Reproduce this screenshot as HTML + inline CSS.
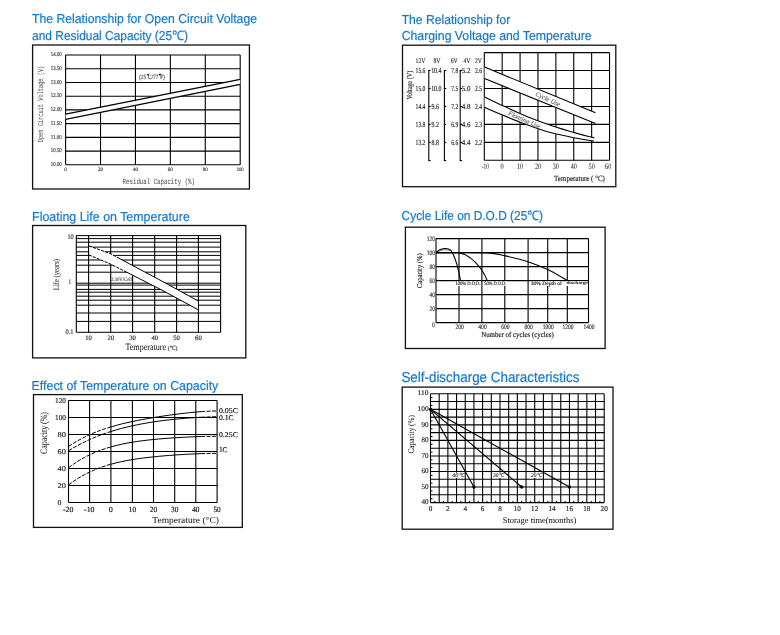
<!DOCTYPE html>
<html><head><meta charset="utf-8"><style>
html,body{margin:0;padding:0;background:#fff;width:780px;height:635px;overflow:hidden;position:relative}
svg{display:block;position:absolute;left:0;top:0}
#c{will-change:transform}
text{text-rendering:geometricPrecision}
</style></head><body>
<svg id="c" width="780" height="635" viewBox="0 0 780 635">
<rect width="780" height="635" fill="#fff"/>
<rect x="32.6" y="45" width="216.8" height="144" fill="none" stroke="#111" stroke-width="1.3"/>
<line x1="65.60" y1="55.00" x2="65.60" y2="164.80" stroke="#000" stroke-width="1.1" />
<line x1="100.52" y1="55.00" x2="100.52" y2="164.80" stroke="#000" stroke-width="1.1" />
<line x1="135.44" y1="55.00" x2="135.44" y2="164.80" stroke="#000" stroke-width="1.1" />
<line x1="170.36" y1="55.00" x2="170.36" y2="164.80" stroke="#000" stroke-width="1.1" />
<line x1="205.28" y1="55.00" x2="205.28" y2="164.80" stroke="#000" stroke-width="1.1" />
<line x1="240.20" y1="55.00" x2="240.20" y2="164.80" stroke="#000" stroke-width="1.1" />
<line x1="65.60" y1="55.00" x2="240.20" y2="55.00" stroke="#000" stroke-width="1.1" />
<line x1="65.60" y1="68.72" x2="240.20" y2="68.72" stroke="#000" stroke-width="1.1" />
<line x1="65.60" y1="82.45" x2="240.20" y2="82.45" stroke="#000" stroke-width="1.1" />
<line x1="65.60" y1="96.18" x2="240.20" y2="96.18" stroke="#000" stroke-width="1.1" />
<line x1="65.60" y1="109.90" x2="240.20" y2="109.90" stroke="#000" stroke-width="1.1" />
<line x1="65.60" y1="123.62" x2="240.20" y2="123.62" stroke="#000" stroke-width="1.1" />
<line x1="65.60" y1="137.35" x2="240.20" y2="137.35" stroke="#000" stroke-width="1.1" />
<line x1="65.60" y1="151.08" x2="240.20" y2="151.08" stroke="#000" stroke-width="1.1" />
<line x1="65.60" y1="164.80" x2="240.20" y2="164.80" stroke="#000" stroke-width="1.1" />
<polygon points="65.6,114.1 240.2,79.4 240.2,84.4 65.6,119.4" fill="#fff"/>
<line x1="65.60" y1="114.10" x2="240.20" y2="79.40" stroke="#000" stroke-width="1.1" />
<line x1="65.60" y1="119.40" x2="240.20" y2="84.40" stroke="#000" stroke-width="1.1" />
<text transform="translate(61.80,54.20) scale(0.846,1)" x="0" y="1.95" font-family="Liberation Serif" font-size="5.78" fill="#333" stroke="#333" stroke-width="0.15" text-anchor="end" >14.00</text>
<text transform="translate(61.80,67.92) scale(0.846,1)" x="0" y="1.95" font-family="Liberation Serif" font-size="5.78" fill="#333" stroke="#333" stroke-width="0.15" text-anchor="end" >13.50</text>
<text transform="translate(61.80,81.65) scale(0.846,1)" x="0" y="1.95" font-family="Liberation Serif" font-size="5.78" fill="#333" stroke="#333" stroke-width="0.15" text-anchor="end" >13.00</text>
<text transform="translate(61.80,95.38) scale(0.846,1)" x="0" y="1.95" font-family="Liberation Serif" font-size="5.78" fill="#333" stroke="#333" stroke-width="0.15" text-anchor="end" >12.50</text>
<text transform="translate(61.80,109.10) scale(0.846,1)" x="0" y="1.95" font-family="Liberation Serif" font-size="5.78" fill="#333" stroke="#333" stroke-width="0.15" text-anchor="end" >12.00</text>
<text transform="translate(61.80,122.83) scale(0.860,1)" x="0" y="1.95" font-family="Liberation Serif" font-size="5.78" fill="#333" stroke="#333" stroke-width="0.15" text-anchor="end" >11.50</text>
<text transform="translate(61.80,136.55) scale(0.860,1)" x="0" y="1.95" font-family="Liberation Serif" font-size="5.78" fill="#333" stroke="#333" stroke-width="0.15" text-anchor="end" >11.00</text>
<text transform="translate(61.80,150.28) scale(0.846,1)" x="0" y="1.95" font-family="Liberation Serif" font-size="5.78" fill="#333" stroke="#333" stroke-width="0.15" text-anchor="end" >10.50</text>
<text transform="translate(61.80,164.00) scale(0.846,1)" x="0" y="1.95" font-family="Liberation Serif" font-size="5.78" fill="#333" stroke="#333" stroke-width="0.15" text-anchor="end" >10.00</text>
<text transform="translate(65.60,169.50) scale(0.975,1)" x="0" y="1.80" font-family="Liberation Serif" font-size="5.33" fill="#333" stroke="#333" stroke-width="0.15" text-anchor="middle" >0</text>
<text transform="translate(100.52,169.50) scale(0.938,1)" x="0" y="1.80" font-family="Liberation Serif" font-size="5.33" fill="#333" stroke="#333" stroke-width="0.15" text-anchor="middle" >20</text>
<text transform="translate(135.44,169.50) scale(0.938,1)" x="0" y="1.80" font-family="Liberation Serif" font-size="5.33" fill="#333" stroke="#333" stroke-width="0.15" text-anchor="middle" >40</text>
<text transform="translate(170.36,169.50) scale(0.938,1)" x="0" y="1.80" font-family="Liberation Serif" font-size="5.33" fill="#333" stroke="#333" stroke-width="0.15" text-anchor="middle" >60</text>
<text transform="translate(205.28,169.50) scale(0.938,1)" x="0" y="1.80" font-family="Liberation Serif" font-size="5.33" fill="#333" stroke="#333" stroke-width="0.15" text-anchor="middle" >80</text>
<text transform="translate(240.20,169.50) scale(0.875,1)" x="0" y="1.80" font-family="Liberation Serif" font-size="5.33" fill="#333" stroke="#333" stroke-width="0.15" text-anchor="middle" >100</text>
<text transform="translate(158.80,181.80) scale(0.729,1)" x="0" y="2.60" font-family="Liberation Mono" font-size="7.88" fill="#444" stroke="#444" stroke-width="0" text-anchor="middle" >Residual Capacity (%)</text>
<text transform="translate(40.80,104.00) rotate(-90) scale(0.675,1)" x="0" y="2.60" font-family="Liberation Mono" font-size="7.88" fill="#444" stroke="#444" stroke-width="0" text-anchor="middle">Open Circuit Voltage (V)</text>
<text transform="translate(151.90,76.60) scale(0.872,1)" x="0" y="2.30" font-family="Liberation Serif" font-size="6.39" fill="#555" stroke="#555" stroke-width="0.15" text-anchor="middle" >(25 C/77 F)</text>
<circle cx="148" cy="74.6" r="0.95" fill="#000"/><circle cx="159.9" cy="74.5" r="0.95" fill="#000"/>
<rect x="402.5" y="45.2" width="213.3" height="141.5" fill="none" stroke="#111" stroke-width="1.3"/>
<line x1="484.30" y1="52.60" x2="484.30" y2="160.30" stroke="#000" stroke-width="1.1" />
<line x1="502.19" y1="52.60" x2="502.19" y2="160.30" stroke="#000" stroke-width="1.1" />
<line x1="520.08" y1="52.60" x2="520.08" y2="160.30" stroke="#000" stroke-width="1.1" />
<line x1="537.97" y1="52.60" x2="537.97" y2="160.30" stroke="#000" stroke-width="1.1" />
<line x1="555.86" y1="52.60" x2="555.86" y2="160.30" stroke="#000" stroke-width="1.1" />
<line x1="573.75" y1="52.60" x2="573.75" y2="160.30" stroke="#000" stroke-width="1.1" />
<line x1="591.64" y1="52.60" x2="591.64" y2="160.30" stroke="#000" stroke-width="1.1" />
<line x1="609.53" y1="52.60" x2="609.53" y2="160.30" stroke="#000" stroke-width="1.1" />
<line x1="484.30" y1="52.60" x2="609.53" y2="52.60" stroke="#000" stroke-width="1.1" />
<line x1="484.30" y1="70.55" x2="609.53" y2="70.55" stroke="#000" stroke-width="1.1" />
<line x1="484.30" y1="88.50" x2="609.53" y2="88.50" stroke="#000" stroke-width="1.1" />
<line x1="484.30" y1="106.45" x2="609.53" y2="106.45" stroke="#000" stroke-width="1.1" />
<line x1="484.30" y1="124.40" x2="609.53" y2="124.40" stroke="#000" stroke-width="1.1" />
<line x1="484.30" y1="142.35" x2="609.53" y2="142.35" stroke="#000" stroke-width="1.1" />
<line x1="484.30" y1="160.30" x2="609.53" y2="160.30" stroke="#000" stroke-width="1.1" />
<polygon points="484.6,67.1 595.5,112.7 595.5,123.6 484.6,78.6" fill="#fff"/>
<line x1="484.60" y1="67.10" x2="595.50" y2="112.70" stroke="#000" stroke-width="1.1" />
<line x1="484.60" y1="78.60" x2="595.50" y2="123.60" stroke="#000" stroke-width="1.1" />
<path d="M484.60,97.00 C489.73,99.47 493.17,101.25 500.00,104.40 C506.83,107.55 517.05,112.38 525.60,115.90 C534.15,119.42 542.75,122.58 551.30,125.50 C559.85,128.42 569.73,131.33 576.90,133.40 C584.07,135.47 588.50,136.40 594.30,137.90 L594.0,141.0 594.00,141.00 C588.30,140.07 584.02,139.57 576.90,138.20 C569.78,136.83 559.85,135.13 551.30,132.80 C542.75,130.47 534.15,127.33 525.60,124.20 C517.05,121.07 506.83,116.82 500.00,114.00 C493.17,111.18 489.73,109.53 484.60,107.30 Z" fill="#fff"/>
<path d="M484.60,97.00 C489.73,99.47 493.17,101.25 500.00,104.40 C506.83,107.55 517.05,112.38 525.60,115.90 C534.15,119.42 542.75,122.58 551.30,125.50 C559.85,128.42 569.73,131.33 576.90,133.40 C584.07,135.47 588.50,136.40 594.30,137.90" fill="none" stroke="#000" stroke-width="1.1"/>
<path d="M484.60,107.30 C489.73,109.53 493.17,111.18 500.00,114.00 C506.83,116.82 517.05,121.07 525.60,124.20 C534.15,127.33 542.75,130.47 551.30,132.80 C559.85,135.13 569.78,136.83 576.90,138.20 C584.02,139.57 588.30,140.07 594.00,141.00" fill="none" stroke="#000" stroke-width="1.1"/>
<text transform="translate(548.00,99.20) rotate(25) scale(1.025,1)" x="0" y="2.10" font-family="Liberation Serif" font-size="6.36" fill="#666" stroke="#666" stroke-width="0.15" text-anchor="middle" font-style="italic">Cycle Use</text>
<text transform="translate(524.40,119.70) rotate(24) scale(1.040,1)" x="0" y="2.10" font-family="Liberation Serif" font-size="6.36" fill="#666" stroke="#666" stroke-width="0.15" text-anchor="middle" font-style="italic">Floating Use</text>
<line x1="428.80" y1="70.50" x2="428.80" y2="160.60" stroke="#000" stroke-width="1.1" />
<line x1="428.30" y1="70.50" x2="430.60" y2="70.50" stroke="#000" stroke-width="1.1" />
<line x1="428.30" y1="160.60" x2="430.60" y2="160.60" stroke="#000" stroke-width="1.1" />
<line x1="428.80" y1="88.50" x2="430.60" y2="88.50" stroke="#000" stroke-width="1.1" />
<line x1="428.80" y1="106.45" x2="430.60" y2="106.45" stroke="#000" stroke-width="1.1" />
<line x1="428.80" y1="124.40" x2="430.60" y2="124.40" stroke="#000" stroke-width="1.1" />
<line x1="428.80" y1="142.35" x2="430.60" y2="142.35" stroke="#000" stroke-width="1.1" />
<line x1="444.40" y1="70.50" x2="444.40" y2="160.60" stroke="#000" stroke-width="1.1" />
<line x1="443.90" y1="70.50" x2="446.20" y2="70.50" stroke="#000" stroke-width="1.1" />
<line x1="443.90" y1="160.60" x2="446.20" y2="160.60" stroke="#000" stroke-width="1.1" />
<line x1="444.40" y1="88.50" x2="446.20" y2="88.50" stroke="#000" stroke-width="1.1" />
<line x1="444.40" y1="106.45" x2="446.20" y2="106.45" stroke="#000" stroke-width="1.1" />
<line x1="444.40" y1="124.40" x2="446.20" y2="124.40" stroke="#000" stroke-width="1.1" />
<line x1="444.40" y1="142.35" x2="446.20" y2="142.35" stroke="#000" stroke-width="1.1" />
<line x1="460.20" y1="70.50" x2="460.20" y2="160.60" stroke="#000" stroke-width="1.1" />
<line x1="459.70" y1="70.50" x2="462.00" y2="70.50" stroke="#000" stroke-width="1.1" />
<line x1="459.70" y1="160.60" x2="462.00" y2="160.60" stroke="#000" stroke-width="1.1" />
<line x1="460.20" y1="88.50" x2="462.00" y2="88.50" stroke="#000" stroke-width="1.1" />
<line x1="460.20" y1="106.45" x2="462.00" y2="106.45" stroke="#000" stroke-width="1.1" />
<line x1="460.20" y1="124.40" x2="462.00" y2="124.40" stroke="#000" stroke-width="1.1" />
<line x1="460.20" y1="142.35" x2="462.00" y2="142.35" stroke="#000" stroke-width="1.1" />
<text transform="translate(420.50,60.40) scale(0.816,1)" x="0" y="2.30" font-family="Liberation Serif" font-size="6.97" fill="#333" stroke="#333" stroke-width="0.15" text-anchor="middle" >12V</text>
<text transform="translate(436.90,60.40) scale(0.822,1)" x="0" y="2.30" font-family="Liberation Serif" font-size="6.97" fill="#333" stroke="#333" stroke-width="0.15" text-anchor="middle" >8V</text>
<text transform="translate(454.20,60.40) scale(0.822,1)" x="0" y="2.30" font-family="Liberation Serif" font-size="6.97" fill="#333" stroke="#333" stroke-width="0.15" text-anchor="middle" >6V</text>
<text transform="translate(467.00,60.40) scale(0.845,1)" x="0" y="2.30" font-family="Liberation Serif" font-size="6.97" fill="#333" stroke="#333" stroke-width="0.15" text-anchor="middle" >4V</text>
<text transform="translate(478.45,60.40) scale(0.810,1)" x="0" y="2.30" font-family="Liberation Serif" font-size="6.97" fill="#333" stroke="#333" stroke-width="0.15" text-anchor="middle" >2V</text>
<text transform="translate(425.40,70.15) scale(0.727,1)" x="0" y="2.60" font-family="Liberation Serif" font-size="7.70" fill="#222" stroke="#222" stroke-width="0.15" text-anchor="end" >15.6</text>
<text transform="translate(425.40,88.10) scale(0.727,1)" x="0" y="2.60" font-family="Liberation Serif" font-size="7.70" fill="#222" stroke="#222" stroke-width="0.15" text-anchor="end" >15.0</text>
<text transform="translate(425.40,106.05) scale(0.727,1)" x="0" y="2.60" font-family="Liberation Serif" font-size="7.70" fill="#222" stroke="#222" stroke-width="0.15" text-anchor="end" >14.4</text>
<text transform="translate(425.40,124.00) scale(0.727,1)" x="0" y="2.60" font-family="Liberation Serif" font-size="7.70" fill="#222" stroke="#222" stroke-width="0.15" text-anchor="end" >13.8</text>
<text transform="translate(425.40,141.95) scale(0.727,1)" x="0" y="2.60" font-family="Liberation Serif" font-size="7.70" fill="#222" stroke="#222" stroke-width="0.15" text-anchor="end" >13.2</text>
<text transform="translate(441.50,70.15) scale(0.771,1)" x="0" y="2.60" font-family="Liberation Serif" font-size="7.70" fill="#222" stroke="#222" stroke-width="0.15" text-anchor="end" >10.4</text>
<text transform="translate(441.50,88.10) scale(0.771,1)" x="0" y="2.60" font-family="Liberation Serif" font-size="7.70" fill="#222" stroke="#222" stroke-width="0.15" text-anchor="end" >10.0</text>
<text transform="translate(431.50,106.05) scale(0.768,1)" x="0" y="2.60" font-family="Liberation Serif" font-size="7.70" fill="#222" stroke="#222" stroke-width="0.15" text-anchor="start" >9.6</text>
<text transform="translate(431.50,124.00) scale(0.768,1)" x="0" y="2.60" font-family="Liberation Serif" font-size="7.70" fill="#222" stroke="#222" stroke-width="0.15" text-anchor="start" >9.2</text>
<text transform="translate(431.50,141.95) scale(0.768,1)" x="0" y="2.60" font-family="Liberation Serif" font-size="7.70" fill="#222" stroke="#222" stroke-width="0.15" text-anchor="start" >8.8</text>
<text transform="translate(458.20,70.15) scale(0.717,1)" x="0" y="2.60" font-family="Liberation Serif" font-size="7.70" fill="#222" stroke="#222" stroke-width="0.15" text-anchor="end" >7.8</text>
<text transform="translate(458.20,88.10) scale(0.717,1)" x="0" y="2.60" font-family="Liberation Serif" font-size="7.70" fill="#222" stroke="#222" stroke-width="0.15" text-anchor="end" >7.5</text>
<text transform="translate(458.20,106.05) scale(0.717,1)" x="0" y="2.60" font-family="Liberation Serif" font-size="7.70" fill="#222" stroke="#222" stroke-width="0.15" text-anchor="end" >7.2</text>
<text transform="translate(458.20,124.00) scale(0.717,1)" x="0" y="2.60" font-family="Liberation Serif" font-size="7.70" fill="#222" stroke="#222" stroke-width="0.15" text-anchor="end" >6.9</text>
<text transform="translate(458.20,141.95) scale(0.717,1)" x="0" y="2.60" font-family="Liberation Serif" font-size="7.70" fill="#222" stroke="#222" stroke-width="0.15" text-anchor="end" >6.6</text>
<text transform="translate(470.40,70.15) scale(0.903,1)" x="0" y="2.60" font-family="Liberation Serif" font-size="7.70" fill="#222" stroke="#222" stroke-width="0.15" text-anchor="end" >5.2</text>
<text transform="translate(470.40,88.10) scale(0.903,1)" x="0" y="2.60" font-family="Liberation Serif" font-size="7.70" fill="#222" stroke="#222" stroke-width="0.15" text-anchor="end" >5.0</text>
<text transform="translate(470.40,106.05) scale(0.903,1)" x="0" y="2.60" font-family="Liberation Serif" font-size="7.70" fill="#222" stroke="#222" stroke-width="0.15" text-anchor="end" >4.8</text>
<text transform="translate(470.40,124.00) scale(0.903,1)" x="0" y="2.60" font-family="Liberation Serif" font-size="7.70" fill="#222" stroke="#222" stroke-width="0.15" text-anchor="end" >4.6</text>
<text transform="translate(470.40,141.95) scale(0.903,1)" x="0" y="2.60" font-family="Liberation Serif" font-size="7.70" fill="#222" stroke="#222" stroke-width="0.15" text-anchor="end" >4.4</text>
<text transform="translate(482.10,70.15) scale(0.737,1)" x="0" y="2.60" font-family="Liberation Serif" font-size="7.70" fill="#222" stroke="#222" stroke-width="0.15" text-anchor="end" >2.6</text>
<text transform="translate(482.10,88.10) scale(0.737,1)" x="0" y="2.60" font-family="Liberation Serif" font-size="7.70" fill="#222" stroke="#222" stroke-width="0.15" text-anchor="end" >2.5</text>
<text transform="translate(482.10,106.05) scale(0.737,1)" x="0" y="2.60" font-family="Liberation Serif" font-size="7.70" fill="#222" stroke="#222" stroke-width="0.15" text-anchor="end" >2.4</text>
<text transform="translate(482.10,124.00) scale(0.737,1)" x="0" y="2.60" font-family="Liberation Serif" font-size="7.70" fill="#222" stroke="#222" stroke-width="0.15" text-anchor="end" >2.3</text>
<text transform="translate(482.10,141.95) scale(0.737,1)" x="0" y="2.60" font-family="Liberation Serif" font-size="7.70" fill="#222" stroke="#222" stroke-width="0.15" text-anchor="end" >2.2</text>
<text transform="translate(409.80,85.20) rotate(-90) scale(0.813,1)" x="0" y="2.50" font-family="Liberation Serif" font-size="7.58" fill="#333" stroke="#333" stroke-width="0.15" text-anchor="middle">Voltage (V)</text>
<text transform="translate(485.40,166.20) scale(0.651,1)" x="0" y="2.80" font-family="Liberation Serif" font-size="8.30" fill="#222" stroke="#222" stroke-width="0.04" text-anchor="middle" >-10</text>
<text transform="translate(502.19,166.20) scale(0.771,1)" x="0" y="2.80" font-family="Liberation Serif" font-size="8.30" fill="#222" stroke="#222" stroke-width="0.04" text-anchor="middle" >0</text>
<text transform="translate(520.08,166.20) scale(0.735,1)" x="0" y="2.80" font-family="Liberation Serif" font-size="8.30" fill="#222" stroke="#222" stroke-width="0.04" text-anchor="middle" >10</text>
<text transform="translate(537.97,166.20) scale(0.735,1)" x="0" y="2.80" font-family="Liberation Serif" font-size="8.30" fill="#222" stroke="#222" stroke-width="0.04" text-anchor="middle" >20</text>
<text transform="translate(555.86,166.20) scale(0.735,1)" x="0" y="2.80" font-family="Liberation Serif" font-size="8.30" fill="#222" stroke="#222" stroke-width="0.04" text-anchor="middle" >30</text>
<text transform="translate(573.75,166.20) scale(0.735,1)" x="0" y="2.80" font-family="Liberation Serif" font-size="8.30" fill="#222" stroke="#222" stroke-width="0.04" text-anchor="middle" >40</text>
<text transform="translate(591.64,166.20) scale(0.735,1)" x="0" y="2.80" font-family="Liberation Serif" font-size="8.30" fill="#222" stroke="#222" stroke-width="0.04" text-anchor="middle" >50</text>
<text transform="translate(608.13,166.20) scale(0.735,1)" x="0" y="2.80" font-family="Liberation Serif" font-size="8.30" fill="#222" stroke="#222" stroke-width="0.04" text-anchor="middle" >60</text>
<text transform="translate(579.50,178.20) scale(0.873,1)" x="0" y="2.65" font-family="Liberation Serif" font-size="8.03" fill="#222" stroke="#222" stroke-width="0.15" text-anchor="middle" >Temperature ( °C)</text>
<rect x="32.6" y="225.5" width="213.2" height="132.4" fill="none" stroke="#111" stroke-width="1.3"/>
<line x1="76.30" y1="235.60" x2="220.60" y2="235.60" stroke="#000" stroke-width="1.0" />
<line x1="76.30" y1="238.60" x2="220.60" y2="238.60" stroke="#000" stroke-width="1.0" />
<line x1="76.30" y1="242.20" x2="220.60" y2="242.20" stroke="#000" stroke-width="1.0" />
<line x1="76.30" y1="247.10" x2="220.60" y2="247.10" stroke="#000" stroke-width="1.0" />
<line x1="76.30" y1="251.80" x2="220.60" y2="251.80" stroke="#000" stroke-width="1.0" />
<line x1="76.30" y1="255.40" x2="220.60" y2="255.40" stroke="#000" stroke-width="1.0" />
<line x1="76.30" y1="260.00" x2="220.60" y2="260.00" stroke="#000" stroke-width="1.0" />
<line x1="76.30" y1="265.20" x2="220.60" y2="265.20" stroke="#000" stroke-width="1.0" />
<line x1="76.30" y1="272.20" x2="220.60" y2="272.20" stroke="#000" stroke-width="1.0" />
<line x1="76.30" y1="283.20" x2="220.60" y2="283.20" stroke="#000" stroke-width="1.0" />
<line x1="76.30" y1="285.10" x2="220.60" y2="285.10" stroke="#000" stroke-width="1.0" />
<line x1="76.30" y1="289.40" x2="220.60" y2="289.40" stroke="#000" stroke-width="1.0" />
<line x1="76.30" y1="292.20" x2="220.60" y2="292.20" stroke="#000" stroke-width="1.0" />
<line x1="76.30" y1="296.20" x2="220.60" y2="296.20" stroke="#000" stroke-width="1.0" />
<line x1="76.30" y1="300.20" x2="220.60" y2="300.20" stroke="#000" stroke-width="1.0" />
<line x1="76.30" y1="305.20" x2="220.60" y2="305.20" stroke="#000" stroke-width="1.0" />
<line x1="76.30" y1="313.00" x2="220.60" y2="313.00" stroke="#000" stroke-width="1.0" />
<line x1="76.30" y1="321.40" x2="220.60" y2="321.40" stroke="#000" stroke-width="1.0" />
<line x1="76.30" y1="332.30" x2="220.60" y2="332.30" stroke="#000" stroke-width="1.0" />
<line x1="76.30" y1="235.60" x2="76.30" y2="332.30" stroke="#000" stroke-width="1.1" />
<line x1="220.60" y1="235.60" x2="220.60" y2="332.30" stroke="#000" stroke-width="1.1" />
<line x1="88.60" y1="235.60" x2="88.60" y2="332.30" stroke="#000" stroke-width="1.1" />
<line x1="110.70" y1="235.60" x2="110.70" y2="332.30" stroke="#000" stroke-width="1.1" />
<line x1="132.60" y1="235.60" x2="132.60" y2="332.30" stroke="#000" stroke-width="1.1" />
<line x1="154.70" y1="235.60" x2="154.70" y2="332.30" stroke="#000" stroke-width="1.1" />
<line x1="176.60" y1="235.60" x2="176.60" y2="332.30" stroke="#000" stroke-width="1.1" />
<line x1="198.40" y1="235.60" x2="198.40" y2="332.30" stroke="#000" stroke-width="1.1" />
<polygon points="88.8,245.9 110,253.5 160,280.1 197.9,300.8 197.9,309.6 160,289.1 110,263.8 88.8,254.9" fill="#fff"/>
<polyline points="88.80,245.90 110.00,253.50 118.00,257.76" fill="none" stroke="#000" stroke-width="1.0" stroke-dasharray="3.2,1.1"/>
<polyline points="118.00,257.76 160.00,280.10 197.90,300.80" fill="none" stroke="#000" stroke-width="1.0"/>
<polyline points="88.80,254.90 110.00,263.80 124.00,270.88" fill="none" stroke="#000" stroke-width="1.0" stroke-dasharray="3.2,1.1"/>
<polyline points="124.00,270.88 160.00,289.10 197.90,309.60" fill="none" stroke="#000" stroke-width="1.0"/>
<line x1="88.60" y1="245.50" x2="88.60" y2="255.30" stroke="#000" stroke-width="1.1" />
<text transform="translate(121.50,279.00) scale(0.892,1)" x="0" y="1.80" font-family="Liberation Serif" font-size="5.33" fill="#555" stroke="#555" stroke-width="0.15" text-anchor="middle" >2.30V/Cell</text>
<text transform="translate(73.60,236.60) scale(0.890,1)" x="0" y="2.35" font-family="Liberation Serif" font-size="6.96" fill="#333" stroke="#333" stroke-width="0.15" text-anchor="end" >10</text>
<text transform="translate(71.00,281.70) scale(0.747,1)" x="0" y="2.35" font-family="Liberation Serif" font-size="6.96" fill="#333" stroke="#333" stroke-width="0.15" text-anchor="end" >1</text>
<text transform="translate(73.60,331.80) scale(0.931,1)" x="0" y="2.35" font-family="Liberation Serif" font-size="6.96" fill="#333" stroke="#333" stroke-width="0.15" text-anchor="end" >0.1</text>
<text transform="translate(88.60,337.70) scale(0.968,1)" x="0" y="2.30" font-family="Liberation Serif" font-size="6.81" fill="#222" stroke="#222" stroke-width="0.15" text-anchor="middle" >10</text>
<text transform="translate(110.70,337.70) scale(0.968,1)" x="0" y="2.30" font-family="Liberation Serif" font-size="6.81" fill="#222" stroke="#222" stroke-width="0.15" text-anchor="middle" >20</text>
<text transform="translate(132.60,337.70) scale(0.968,1)" x="0" y="2.30" font-family="Liberation Serif" font-size="6.81" fill="#222" stroke="#222" stroke-width="0.15" text-anchor="middle" >30</text>
<text transform="translate(154.70,337.70) scale(0.968,1)" x="0" y="2.30" font-family="Liberation Serif" font-size="6.81" fill="#222" stroke="#222" stroke-width="0.15" text-anchor="middle" >40</text>
<text transform="translate(176.60,337.70) scale(0.968,1)" x="0" y="2.30" font-family="Liberation Serif" font-size="6.81" fill="#222" stroke="#222" stroke-width="0.15" text-anchor="middle" >50</text>
<text transform="translate(198.40,337.70) scale(0.968,1)" x="0" y="2.30" font-family="Liberation Serif" font-size="6.81" fill="#222" stroke="#222" stroke-width="0.15" text-anchor="middle" >60</text>
<text transform="translate(125.40,347.30) scale(0.862,1)" x="0" y="3.10" font-family="Liberation Serif" font-size="9.39" fill="#111" stroke="#111" stroke-width="0.04" text-anchor="start" >Temperature</text>
<text transform="translate(167.70,347.80) scale(0.971,1)" x="0" y="2.00" font-family="Liberation Serif" font-size="6.06" fill="#333" stroke="#333" stroke-width="0.15" text-anchor="start" >(℃)</text>
<text transform="translate(56.00,274.60) rotate(-90) scale(0.784,1)" x="0" y="2.80" font-family="Liberation Serif" font-size="8.48" fill="#222" stroke="#222" stroke-width="0.04" text-anchor="middle">Life (years)</text>
<rect x="405.4" y="227.2" width="199.7" height="121.3" fill="none" stroke="#111" stroke-width="1.3"/>
<line x1="436.00" y1="238.60" x2="436.00" y2="322.60" stroke="#000" stroke-width="1.1" />
<line x1="459.00" y1="238.60" x2="459.00" y2="322.60" stroke="#000" stroke-width="1.1" />
<line x1="481.90" y1="238.60" x2="481.90" y2="322.60" stroke="#000" stroke-width="1.1" />
<line x1="504.80" y1="238.60" x2="504.80" y2="322.60" stroke="#000" stroke-width="1.1" />
<line x1="528.10" y1="238.60" x2="528.10" y2="322.60" stroke="#000" stroke-width="1.1" />
<line x1="547.70" y1="238.60" x2="547.70" y2="322.60" stroke="#000" stroke-width="1.1" />
<line x1="567.30" y1="238.60" x2="567.30" y2="322.60" stroke="#000" stroke-width="1.1" />
<line x1="588.50" y1="238.60" x2="588.50" y2="322.60" stroke="#000" stroke-width="1.1" />
<line x1="436.00" y1="238.60" x2="588.50" y2="238.60" stroke="#000" stroke-width="1.1" />
<line x1="436.00" y1="252.60" x2="588.50" y2="252.60" stroke="#000" stroke-width="1.1" />
<line x1="436.00" y1="266.60" x2="588.50" y2="266.60" stroke="#000" stroke-width="1.1" />
<line x1="436.00" y1="280.60" x2="588.50" y2="280.60" stroke="#000" stroke-width="1.1" />
<line x1="436.00" y1="294.60" x2="588.50" y2="294.60" stroke="#000" stroke-width="1.1" />
<line x1="436.00" y1="308.60" x2="588.50" y2="308.60" stroke="#000" stroke-width="1.1" />
<line x1="436.00" y1="322.60" x2="588.50" y2="322.60" stroke="#000" stroke-width="1.1" />
<path d="M436,252.6 C441,247.5 448,247.5 451,250.5 C454,255 458,266 460.5,280.6" fill="none" stroke="#000" stroke-width="1.1"/>
<path d="M438,252.1 C442,249.2 447,249.2 450.5,250.8" fill="none" stroke="#555" stroke-width="0.8"/>
<path d="M436,252.6 L458,252.6 C470,254 482,267 487.3,280.6" fill="none" stroke="#000" stroke-width="1.1"/>
<path d="M436.00,252.60 C444.67,252.63 453.00,252.62 462.00,252.70 C471.00,252.78 482.77,252.57 490.00,253.10 C497.23,253.63 499.10,254.47 505.40,255.90 C511.70,257.33 520.75,259.42 527.80,261.70 C534.85,263.98 541.10,266.45 547.70,269.60 C554.30,272.75 560.83,276.93 567.40,280.60" fill="none" stroke="#000" stroke-width="1.1"/>
<text transform="translate(435.10,238.30) scale(0.840,1)" x="0" y="2.25" font-family="Liberation Serif" font-size="6.67" fill="#333" stroke="#333" stroke-width="0.15" text-anchor="end" >120</text>
<text transform="translate(435.10,252.30) scale(0.840,1)" x="0" y="2.25" font-family="Liberation Serif" font-size="6.67" fill="#333" stroke="#333" stroke-width="0.15" text-anchor="end" >100</text>
<text transform="translate(435.10,266.30) scale(0.840,1)" x="0" y="2.25" font-family="Liberation Serif" font-size="6.67" fill="#333" stroke="#333" stroke-width="0.15" text-anchor="end" >80</text>
<text transform="translate(435.10,280.30) scale(0.840,1)" x="0" y="2.25" font-family="Liberation Serif" font-size="6.67" fill="#333" stroke="#333" stroke-width="0.15" text-anchor="end" >60</text>
<text transform="translate(435.10,294.30) scale(0.840,1)" x="0" y="2.25" font-family="Liberation Serif" font-size="6.67" fill="#333" stroke="#333" stroke-width="0.15" text-anchor="end" >40</text>
<text transform="translate(435.10,308.30) scale(0.840,1)" x="0" y="2.25" font-family="Liberation Serif" font-size="6.67" fill="#333" stroke="#333" stroke-width="0.15" text-anchor="end" >20</text>
<text transform="translate(433.30,325.00) scale(0.840,1)" x="0" y="2.25" font-family="Liberation Serif" font-size="6.67" fill="#333" stroke="#333" stroke-width="0.15" text-anchor="middle" >0</text>
<text transform="translate(459.60,327.20) scale(0.840,1)" x="0" y="2.25" font-family="Liberation Serif" font-size="6.67" fill="#333" stroke="#333" stroke-width="0.15" text-anchor="middle" >200</text>
<text transform="translate(482.50,327.20) scale(0.840,1)" x="0" y="2.25" font-family="Liberation Serif" font-size="6.67" fill="#333" stroke="#333" stroke-width="0.15" text-anchor="middle" >400</text>
<text transform="translate(505.40,327.20) scale(0.840,1)" x="0" y="2.25" font-family="Liberation Serif" font-size="6.67" fill="#333" stroke="#333" stroke-width="0.15" text-anchor="middle" >600</text>
<text transform="translate(528.70,327.20) scale(0.840,1)" x="0" y="2.25" font-family="Liberation Serif" font-size="6.67" fill="#333" stroke="#333" stroke-width="0.15" text-anchor="middle" >800</text>
<text transform="translate(548.30,327.20) scale(0.825,1)" x="0" y="2.25" font-family="Liberation Serif" font-size="6.67" fill="#333" stroke="#333" stroke-width="0.15" text-anchor="middle" >1000</text>
<text transform="translate(567.90,327.20) scale(0.825,1)" x="0" y="2.25" font-family="Liberation Serif" font-size="6.67" fill="#333" stroke="#333" stroke-width="0.15" text-anchor="middle" >1200</text>
<text transform="translate(589.10,327.20) scale(0.825,1)" x="0" y="2.25" font-family="Liberation Serif" font-size="6.67" fill="#333" stroke="#333" stroke-width="0.15" text-anchor="middle" >1400</text>
<rect x="455.3" y="281.3" width="25.7" height="4.6" fill="#fff"/>
<rect x="483.8" y="281.3" width="23.2" height="4.6" fill="#fff"/>
<rect x="530.0" y="281.3" width="33.0" height="4.6" fill="#fff"/>
<rect x="565.3" y="281.3" width="22.5" height="4.6" fill="#fff"/>
<text transform="translate(468.00,283.00) scale(0.852,1)" x="0" y="1.80" font-family="Liberation Serif" font-size="5.33" fill="#222" stroke="#222" stroke-width="0.15" text-anchor="middle" >100% D.O.D.</text>
<text transform="translate(495.30,283.50) scale(0.836,1)" x="0" y="1.80" font-family="Liberation Serif" font-size="5.33" fill="#222" stroke="#222" stroke-width="0.15" text-anchor="middle" >50% D.O.D.</text>
<text transform="translate(546.30,283.50) scale(1.046,1)" x="0" y="1.80" font-family="Liberation Serif" font-size="5.33" fill="#222" stroke="#222" stroke-width="0.15" text-anchor="middle" >30% Depth of</text>
<text transform="translate(577.30,282.20) scale(1.269,1)" x="0" y="1.50" font-family="Liberation Serif" font-size="4.44" fill="#333" stroke="#333" stroke-width="0.15" text-anchor="middle" >discharge</text>
<text transform="translate(517.50,334.90) scale(0.911,1)" x="0" y="2.50" font-family="Liberation Serif" font-size="7.58" fill="#111" stroke="#111" stroke-width="0.15" text-anchor="middle" >Number of cycles (cycles)</text>
<text transform="translate(419.50,270.70) rotate(-90) scale(0.861,1)" x="0" y="2.50" font-family="Liberation Serif" font-size="7.58" fill="#222" stroke="#222" stroke-width="0.15" text-anchor="middle">Capacity (%)</text>
<rect x="33.5" y="394.6" width="208.8" height="132.8" fill="none" stroke="#111" stroke-width="1.3"/>
<line x1="68.50" y1="400.50" x2="68.50" y2="502.50" stroke="#000" stroke-width="1.1" />
<line x1="89.60" y1="400.50" x2="89.60" y2="502.50" stroke="#000" stroke-width="1.1" />
<line x1="110.90" y1="400.50" x2="110.90" y2="502.50" stroke="#000" stroke-width="1.1" />
<line x1="132.40" y1="400.50" x2="132.40" y2="502.50" stroke="#000" stroke-width="1.1" />
<line x1="153.50" y1="400.50" x2="153.50" y2="502.50" stroke="#000" stroke-width="1.1" />
<line x1="174.70" y1="400.50" x2="174.70" y2="502.50" stroke="#000" stroke-width="1.1" />
<line x1="195.80" y1="400.50" x2="195.80" y2="502.50" stroke="#000" stroke-width="1.1" />
<line x1="217.10" y1="400.50" x2="217.10" y2="502.50" stroke="#000" stroke-width="1.1" />
<line x1="68.50" y1="400.50" x2="217.10" y2="400.50" stroke="#000" stroke-width="1.1" />
<line x1="68.50" y1="417.50" x2="217.10" y2="417.50" stroke="#000" stroke-width="1.1" />
<line x1="68.50" y1="434.50" x2="217.10" y2="434.50" stroke="#000" stroke-width="1.1" />
<line x1="68.50" y1="451.50" x2="217.10" y2="451.50" stroke="#000" stroke-width="1.1" />
<line x1="68.50" y1="468.50" x2="217.10" y2="468.50" stroke="#000" stroke-width="1.1" />
<line x1="68.50" y1="485.50" x2="217.10" y2="485.50" stroke="#000" stroke-width="1.1" />
<line x1="68.50" y1="502.50" x2="217.10" y2="502.50" stroke="#000" stroke-width="1.1" />
<path d="M68.50,446.52 C70.27,445.37 72.04,444.17 73.81,443.07 C75.58,441.98 77.35,440.95 79.11,439.97 C80.88,438.99 82.65,438.07 84.42,437.18 C86.19,436.30 87.96,435.47 89.73,434.67 C91.50,433.88 93.27,433.13 95.04,432.42 C96.80,431.70 98.57,431.03 100.34,430.38 C102.11,429.74 103.88,429.13 105.65,428.54 C107.42,427.96 109.19,427.41 110.96,426.88 M201.18,411.66 C202.95,411.54 204.72,411.42 206.49,411.32 C208.25,411.23 210.02,411.15 211.79,411.09 C213.56,411.03 215.33,411.01 217.10,410.97" fill="none" stroke="#000" stroke-width="1.0" stroke-dasharray="4,1.4"/>
<path d="M110.96,426.88 C112.73,426.35 114.50,425.85 116.26,425.37 C118.03,424.88 119.80,424.43 121.57,423.98 C123.34,423.54 125.11,423.12 126.88,422.72 C128.65,422.31 130.42,421.92 132.19,421.54 C133.95,421.17 135.72,420.81 137.49,420.46 C139.26,420.11 141.03,419.77 142.80,419.44 C144.57,419.11 146.34,418.80 148.11,418.49 C149.88,418.18 151.65,417.88 153.41,417.59 C155.18,417.30 156.95,417.02 158.72,416.74 C160.49,416.46 162.26,416.20 164.03,415.94 C165.80,415.67 167.57,415.42 169.34,415.17 C171.10,414.93 172.87,414.69 174.64,414.45 C176.41,414.22 178.18,414.00 179.95,413.78 C181.72,413.57 183.49,413.36 185.26,413.16 C187.03,412.96 188.80,412.77 190.56,412.59 C192.33,412.41 194.10,412.25 195.87,412.09 C197.64,411.94 199.41,411.79 201.18,411.66" fill="none" stroke="#000" stroke-width="1.0"/>
<path d="M68.50,450.82 C70.27,449.77 72.04,448.67 73.81,447.65 C75.58,446.63 77.35,445.66 79.11,444.72 C80.88,443.79 82.65,442.89 84.42,442.03 C86.19,441.17 87.96,440.34 89.73,439.55 C91.50,438.76 93.27,438.00 95.04,437.27 C96.80,436.54 98.57,435.85 100.34,435.18 C102.11,434.51 103.88,433.87 105.65,433.26 C107.42,432.65 109.19,432.06 110.96,431.50 M201.18,417.26 C202.95,417.17 204.72,417.08 206.49,417.01 C208.25,416.94 210.02,416.88 211.79,416.82 C213.56,416.77 215.33,416.73 217.10,416.68" fill="none" stroke="#000" stroke-width="1.0" stroke-dasharray="4,1.4"/>
<path d="M110.96,431.50 C112.73,430.94 114.50,430.41 116.26,429.89 C118.03,429.38 119.80,428.89 121.57,428.42 C123.34,427.95 125.11,427.50 126.88,427.07 C128.65,426.64 130.42,426.24 132.19,425.84 C133.95,425.45 135.72,425.08 137.49,424.72 C139.26,424.37 141.03,424.03 142.80,423.70 C144.57,423.37 146.34,423.07 148.11,422.77 C149.88,422.47 151.65,422.19 153.41,421.92 C155.18,421.65 156.95,421.40 158.72,421.15 C160.49,420.91 162.26,420.68 164.03,420.45 C165.80,420.23 167.57,420.02 169.34,419.82 C171.10,419.62 172.87,419.44 174.64,419.26 C176.41,419.08 178.18,418.91 179.95,418.75 C181.72,418.59 183.49,418.44 185.26,418.29 C187.03,418.15 188.80,418.02 190.56,417.90 C192.33,417.77 194.10,417.66 195.87,417.55 C197.64,417.44 199.41,417.34 201.18,417.26" fill="none" stroke="#000" stroke-width="1.0"/>
<path d="M68.50,467.79 C70.27,466.51 72.04,465.16 73.81,463.95 C75.58,462.73 77.35,461.60 79.11,460.52 C80.88,459.45 82.65,458.44 84.42,457.49 C86.19,456.53 87.96,455.64 89.73,454.80 C91.50,453.95 93.27,453.17 95.04,452.42 C96.80,451.68 98.57,450.99 100.34,450.33 C102.11,449.68 103.88,449.07 105.65,448.50 C107.42,447.92 109.19,447.39 110.96,446.89 M201.18,436.52 C202.95,436.47 204.72,436.43 206.49,436.39 C208.25,436.36 210.02,436.33 211.79,436.32 C213.56,436.30 215.33,436.31 217.10,436.30" fill="none" stroke="#000" stroke-width="1.0" stroke-dasharray="4,1.4"/>
<path d="M110.96,446.89 C112.73,446.38 114.50,445.92 116.26,445.48 C118.03,445.04 119.80,444.63 121.57,444.25 C123.34,443.87 125.11,443.51 126.88,443.18 C128.65,442.84 130.42,442.53 132.19,442.24 C133.95,441.95 135.72,441.67 137.49,441.42 C139.26,441.16 141.03,440.92 142.80,440.70 C144.57,440.47 146.34,440.26 148.11,440.06 C149.88,439.86 151.65,439.68 153.41,439.50 C155.18,439.32 156.95,439.16 158.72,439.00 C160.49,438.84 162.26,438.69 164.03,438.55 C165.80,438.41 167.57,438.28 169.34,438.15 C171.10,438.02 172.87,437.90 174.64,437.79 C176.41,437.68 178.18,437.57 179.95,437.47 C181.72,437.36 183.49,437.27 185.26,437.18 C187.03,437.08 188.80,437.00 190.56,436.92 C192.33,436.84 194.10,436.77 195.87,436.70 C197.64,436.64 199.41,436.58 201.18,436.52" fill="none" stroke="#000" stroke-width="1.0"/>
<path d="M68.50,485.01 C70.27,483.72 72.04,482.37 73.81,481.15 C75.58,479.94 77.35,478.81 79.11,477.73 C80.88,476.66 82.65,475.66 84.42,474.71 C86.19,473.76 87.96,472.87 89.73,472.04 C91.50,471.20 93.27,470.42 95.04,469.68 C96.80,468.95 98.57,468.26 100.34,467.62 C102.11,466.97 103.88,466.37 105.65,465.81 C107.42,465.24 109.19,464.72 110.96,464.22 M201.18,453.62 C202.95,453.56 204.72,453.51 206.49,453.47 C208.25,453.44 210.02,453.41 211.79,453.39 C213.56,453.38 215.33,453.39 217.10,453.39" fill="none" stroke="#000" stroke-width="1.0" stroke-dasharray="4,1.4"/>
<path d="M110.96,464.22 C112.73,463.73 114.50,463.27 116.26,462.84 C118.03,462.40 119.80,462.00 121.57,461.62 C123.34,461.24 125.11,460.89 126.88,460.56 C128.65,460.23 130.42,459.92 132.19,459.63 C133.95,459.34 135.72,459.07 137.49,458.81 C139.26,458.55 141.03,458.31 142.80,458.09 C144.57,457.86 146.34,457.64 148.11,457.44 C149.88,457.24 151.65,457.04 153.41,456.86 C155.18,456.68 156.95,456.50 158.72,456.34 C160.49,456.17 162.26,456.02 164.03,455.86 C165.80,455.71 167.57,455.57 169.34,455.43 C171.10,455.29 172.87,455.16 174.64,455.04 C176.41,454.91 178.18,454.79 179.95,454.68 C181.72,454.56 183.49,454.46 185.26,454.35 C187.03,454.25 188.80,454.15 190.56,454.07 C192.33,453.98 194.10,453.89 195.87,453.82 C197.64,453.74 199.41,453.68 201.18,453.62" fill="none" stroke="#000" stroke-width="1.0"/>
<text transform="translate(66.00,400.50) scale(0.990,1)" x="0" y="2.50" font-family="Liberation Serif" font-size="7.41" fill="#222" stroke="#222" stroke-width="0.15" text-anchor="end" >120</text>
<text transform="translate(66.00,417.50) scale(0.990,1)" x="0" y="2.50" font-family="Liberation Serif" font-size="7.41" fill="#222" stroke="#222" stroke-width="0.15" text-anchor="end" >100</text>
<text transform="translate(66.00,434.50) scale(1.148,1)" x="0" y="2.50" font-family="Liberation Serif" font-size="7.41" fill="#222" stroke="#222" stroke-width="0.15" text-anchor="end" >80</text>
<text transform="translate(66.00,451.50) scale(1.148,1)" x="0" y="2.50" font-family="Liberation Serif" font-size="7.41" fill="#222" stroke="#222" stroke-width="0.15" text-anchor="end" >60</text>
<text transform="translate(66.00,468.50) scale(1.148,1)" x="0" y="2.50" font-family="Liberation Serif" font-size="7.41" fill="#222" stroke="#222" stroke-width="0.15" text-anchor="end" >40</text>
<text transform="translate(66.00,485.50) scale(1.148,1)" x="0" y="2.50" font-family="Liberation Serif" font-size="7.41" fill="#222" stroke="#222" stroke-width="0.15" text-anchor="end" >20</text>
<text transform="translate(61.30,502.50) scale(1.053,1)" x="0" y="2.50" font-family="Liberation Serif" font-size="7.41" fill="#222" stroke="#222" stroke-width="0.15" text-anchor="end" >0</text>
<text transform="translate(68.20,509.10) scale(1.003,1)" x="0" y="2.65" font-family="Liberation Serif" font-size="7.85" fill="#111" stroke="#111" stroke-width="0.15" text-anchor="middle" >-20</text>
<text transform="translate(89.30,509.10) scale(1.003,1)" x="0" y="2.65" font-family="Liberation Serif" font-size="7.85" fill="#111" stroke="#111" stroke-width="0.15" text-anchor="middle" >-10</text>
<text transform="translate(110.90,509.10) scale(1.044,1)" x="0" y="2.65" font-family="Liberation Serif" font-size="7.85" fill="#111" stroke="#111" stroke-width="0.15" text-anchor="middle" >0</text>
<text transform="translate(132.40,509.10) scale(0.930,1)" x="0" y="2.65" font-family="Liberation Serif" font-size="7.85" fill="#111" stroke="#111" stroke-width="0.15" text-anchor="middle" >10</text>
<text transform="translate(153.50,509.10) scale(0.930,1)" x="0" y="2.65" font-family="Liberation Serif" font-size="7.85" fill="#111" stroke="#111" stroke-width="0.15" text-anchor="middle" >20</text>
<text transform="translate(174.70,509.10) scale(0.930,1)" x="0" y="2.65" font-family="Liberation Serif" font-size="7.85" fill="#111" stroke="#111" stroke-width="0.15" text-anchor="middle" >30</text>
<text transform="translate(195.80,509.10) scale(0.930,1)" x="0" y="2.65" font-family="Liberation Serif" font-size="7.85" fill="#111" stroke="#111" stroke-width="0.15" text-anchor="middle" >40</text>
<text transform="translate(217.10,509.10) scale(0.930,1)" x="0" y="2.65" font-family="Liberation Serif" font-size="7.85" fill="#111" stroke="#111" stroke-width="0.15" text-anchor="middle" >50</text>
<text transform="translate(218.90,410.30) scale(1.061,1)" x="0" y="2.50" font-family="Liberation Serif" font-size="7.41" fill="#111" stroke="#111" stroke-width="0.15" text-anchor="start" >0.05C</text>
<text transform="translate(218.90,417.50) scale(1.035,1)" x="0" y="2.50" font-family="Liberation Serif" font-size="7.41" fill="#111" stroke="#111" stroke-width="0.15" text-anchor="start" >0.1C</text>
<text transform="translate(218.90,434.00) scale(1.061,1)" x="0" y="2.50" font-family="Liberation Serif" font-size="7.41" fill="#111" stroke="#111" stroke-width="0.15" text-anchor="start" >0.25C</text>
<text transform="translate(218.90,449.60) scale(0.995,1)" x="0" y="2.50" font-family="Liberation Serif" font-size="7.41" fill="#111" stroke="#111" stroke-width="0.15" text-anchor="start" >1C</text>
<text transform="translate(185.60,520.40) scale(1.045,1)" x="0" y="3.00" font-family="Liberation Serif" font-size="9.09" fill="#222" stroke="#222" stroke-width="0.04" text-anchor="middle" >Temperature (°C)</text>
<text transform="translate(43.40,433.00) rotate(-90) scale(0.817,1)" x="0" y="3.20" font-family="Liberation Serif" font-size="9.70" fill="#222" stroke="#222" stroke-width="0.04" text-anchor="middle">Capacity (%)</text>
<rect x="402.2" y="387.1" width="210.8" height="142.1" fill="none" stroke="#111" stroke-width="1.3"/>
<line x1="430.50" y1="393.80" x2="430.50" y2="502.58" stroke="#000" stroke-width="1.1" />
<line x1="439.19" y1="393.80" x2="439.19" y2="502.58" stroke="#000" stroke-width="1.1" />
<line x1="447.87" y1="393.80" x2="447.87" y2="502.58" stroke="#000" stroke-width="1.1" />
<line x1="456.56" y1="393.80" x2="456.56" y2="502.58" stroke="#000" stroke-width="1.1" />
<line x1="465.24" y1="393.80" x2="465.24" y2="502.58" stroke="#000" stroke-width="1.1" />
<line x1="473.93" y1="393.80" x2="473.93" y2="502.58" stroke="#000" stroke-width="1.1" />
<line x1="482.61" y1="393.80" x2="482.61" y2="502.58" stroke="#000" stroke-width="1.1" />
<line x1="491.30" y1="393.80" x2="491.30" y2="502.58" stroke="#000" stroke-width="1.1" />
<line x1="499.98" y1="393.80" x2="499.98" y2="502.58" stroke="#000" stroke-width="1.1" />
<line x1="508.67" y1="393.80" x2="508.67" y2="502.58" stroke="#000" stroke-width="1.1" />
<line x1="517.35" y1="393.80" x2="517.35" y2="502.58" stroke="#000" stroke-width="1.1" />
<line x1="526.03" y1="393.80" x2="526.03" y2="502.58" stroke="#000" stroke-width="1.1" />
<line x1="534.72" y1="393.80" x2="534.72" y2="502.58" stroke="#000" stroke-width="1.1" />
<line x1="543.40" y1="393.80" x2="543.40" y2="502.58" stroke="#000" stroke-width="1.1" />
<line x1="552.09" y1="393.80" x2="552.09" y2="502.58" stroke="#000" stroke-width="1.1" />
<line x1="560.77" y1="393.80" x2="560.77" y2="502.58" stroke="#000" stroke-width="1.1" />
<line x1="569.46" y1="393.80" x2="569.46" y2="502.58" stroke="#000" stroke-width="1.1" />
<line x1="578.14" y1="393.80" x2="578.14" y2="502.58" stroke="#000" stroke-width="1.1" />
<line x1="586.83" y1="393.80" x2="586.83" y2="502.58" stroke="#000" stroke-width="1.1" />
<line x1="595.51" y1="393.80" x2="595.51" y2="502.58" stroke="#000" stroke-width="1.1" />
<line x1="604.20" y1="393.80" x2="604.20" y2="502.58" stroke="#000" stroke-width="1.1" />
<line x1="430.50" y1="393.80" x2="604.20" y2="393.80" stroke="#000" stroke-width="1.1" />
<line x1="430.50" y1="401.57" x2="604.20" y2="401.57" stroke="#000" stroke-width="1.1" />
<line x1="430.50" y1="409.34" x2="604.20" y2="409.34" stroke="#000" stroke-width="1.1" />
<line x1="430.50" y1="417.11" x2="604.20" y2="417.11" stroke="#000" stroke-width="1.1" />
<line x1="430.50" y1="424.88" x2="604.20" y2="424.88" stroke="#000" stroke-width="1.1" />
<line x1="430.50" y1="432.65" x2="604.20" y2="432.65" stroke="#000" stroke-width="1.1" />
<line x1="430.50" y1="440.42" x2="604.20" y2="440.42" stroke="#000" stroke-width="1.1" />
<line x1="430.50" y1="448.19" x2="604.20" y2="448.19" stroke="#000" stroke-width="1.1" />
<line x1="430.50" y1="455.96" x2="604.20" y2="455.96" stroke="#000" stroke-width="1.1" />
<line x1="430.50" y1="463.73" x2="604.20" y2="463.73" stroke="#000" stroke-width="1.1" />
<line x1="430.50" y1="471.50" x2="604.20" y2="471.50" stroke="#000" stroke-width="1.1" />
<line x1="430.50" y1="479.27" x2="604.20" y2="479.27" stroke="#000" stroke-width="1.1" />
<line x1="430.50" y1="487.04" x2="604.20" y2="487.04" stroke="#000" stroke-width="1.1" />
<line x1="430.50" y1="494.81" x2="604.20" y2="494.81" stroke="#000" stroke-width="1.1" />
<line x1="430.50" y1="502.58" x2="604.20" y2="502.58" stroke="#000" stroke-width="1.1" />
<line x1="430.50" y1="397.69" x2="432.50" y2="397.69" stroke="#000" stroke-width="1" />
<line x1="430.50" y1="405.45" x2="432.50" y2="405.45" stroke="#000" stroke-width="1" />
<line x1="430.50" y1="413.23" x2="432.50" y2="413.23" stroke="#000" stroke-width="1" />
<line x1="430.50" y1="421.00" x2="432.50" y2="421.00" stroke="#000" stroke-width="1" />
<line x1="430.50" y1="428.76" x2="432.50" y2="428.76" stroke="#000" stroke-width="1" />
<line x1="430.50" y1="436.54" x2="432.50" y2="436.54" stroke="#000" stroke-width="1" />
<line x1="430.50" y1="444.31" x2="432.50" y2="444.31" stroke="#000" stroke-width="1" />
<line x1="430.50" y1="452.07" x2="432.50" y2="452.07" stroke="#000" stroke-width="1" />
<line x1="430.50" y1="459.85" x2="432.50" y2="459.85" stroke="#000" stroke-width="1" />
<line x1="430.50" y1="467.62" x2="432.50" y2="467.62" stroke="#000" stroke-width="1" />
<line x1="430.50" y1="475.38" x2="432.50" y2="475.38" stroke="#000" stroke-width="1" />
<line x1="430.50" y1="483.15" x2="432.50" y2="483.15" stroke="#000" stroke-width="1" />
<line x1="430.50" y1="490.93" x2="432.50" y2="490.93" stroke="#000" stroke-width="1" />
<line x1="430.50" y1="498.69" x2="432.50" y2="498.69" stroke="#000" stroke-width="1" />
<line x1="434.84" y1="502.58" x2="434.84" y2="500.88" stroke="#000" stroke-width="1.0" />
<line x1="443.53" y1="502.58" x2="443.53" y2="500.88" stroke="#000" stroke-width="1.0" />
<line x1="452.21" y1="502.58" x2="452.21" y2="500.88" stroke="#000" stroke-width="1.0" />
<line x1="460.90" y1="502.58" x2="460.90" y2="500.88" stroke="#000" stroke-width="1.0" />
<line x1="469.58" y1="502.58" x2="469.58" y2="500.88" stroke="#000" stroke-width="1.0" />
<line x1="478.27" y1="502.58" x2="478.27" y2="500.88" stroke="#000" stroke-width="1.0" />
<line x1="486.95" y1="502.58" x2="486.95" y2="500.88" stroke="#000" stroke-width="1.0" />
<line x1="495.64" y1="502.58" x2="495.64" y2="500.88" stroke="#000" stroke-width="1.0" />
<line x1="504.32" y1="502.58" x2="504.32" y2="500.88" stroke="#000" stroke-width="1.0" />
<line x1="513.01" y1="502.58" x2="513.01" y2="500.88" stroke="#000" stroke-width="1.0" />
<line x1="521.69" y1="502.58" x2="521.69" y2="500.88" stroke="#000" stroke-width="1.0" />
<line x1="530.38" y1="502.58" x2="530.38" y2="500.88" stroke="#000" stroke-width="1.0" />
<line x1="539.06" y1="502.58" x2="539.06" y2="500.88" stroke="#000" stroke-width="1.0" />
<line x1="547.75" y1="502.58" x2="547.75" y2="500.88" stroke="#000" stroke-width="1.0" />
<line x1="556.43" y1="502.58" x2="556.43" y2="500.88" stroke="#000" stroke-width="1.0" />
<line x1="565.12" y1="502.58" x2="565.12" y2="500.88" stroke="#000" stroke-width="1.0" />
<line x1="573.80" y1="502.58" x2="573.80" y2="500.88" stroke="#000" stroke-width="1.0" />
<line x1="582.49" y1="502.58" x2="582.49" y2="500.88" stroke="#000" stroke-width="1.0" />
<line x1="591.17" y1="502.58" x2="591.17" y2="500.88" stroke="#000" stroke-width="1.0" />
<line x1="599.86" y1="502.58" x2="599.86" y2="500.88" stroke="#000" stroke-width="1.0" />
<rect x="452.5" y="472.6" width="11.7" height="5.4" fill="#fff"/>
<rect x="493.5" y="472.6" width="10.0" height="5.4" fill="#fff"/>
<rect x="531.3" y="472.6" width="10.2" height="5.4" fill="#fff"/>
<line x1="430.50" y1="409.34" x2="473.93" y2="487.04" stroke="#000" stroke-width="1.1" />
<circle cx="473.93" cy="487.04" r="1.7" fill="#000"/>
<line x1="430.50" y1="409.34" x2="521.69" y2="487.04" stroke="#000" stroke-width="1.1" />
<circle cx="521.69" cy="487.04" r="1.7" fill="#000"/>
<line x1="430.50" y1="409.34" x2="569.46" y2="487.04" stroke="#000" stroke-width="1.1" />
<circle cx="569.46" cy="487.04" r="1.7" fill="#000"/>
<circle cx="430.5" cy="409.34" r="1.7" fill="#000"/>
<text transform="translate(428.60,393.00) scale(1.036,1)" x="0" y="2.45" font-family="Liberation Serif" font-size="7.26" fill="#222" stroke="#222" stroke-width="0.15" text-anchor="end" >110</text>
<text transform="translate(428.60,408.54) scale(1.010,1)" x="0" y="2.45" font-family="Liberation Serif" font-size="7.26" fill="#222" stroke="#222" stroke-width="0.15" text-anchor="end" >100</text>
<text transform="translate(428.60,424.08) scale(0.978,1)" x="0" y="2.45" font-family="Liberation Serif" font-size="7.26" fill="#222" stroke="#222" stroke-width="0.15" text-anchor="end" >90</text>
<text transform="translate(428.60,439.62) scale(0.978,1)" x="0" y="2.45" font-family="Liberation Serif" font-size="7.26" fill="#222" stroke="#222" stroke-width="0.15" text-anchor="end" >80</text>
<text transform="translate(428.60,455.16) scale(0.978,1)" x="0" y="2.45" font-family="Liberation Serif" font-size="7.26" fill="#222" stroke="#222" stroke-width="0.15" text-anchor="end" >70</text>
<text transform="translate(428.60,470.70) scale(0.978,1)" x="0" y="2.45" font-family="Liberation Serif" font-size="7.26" fill="#222" stroke="#222" stroke-width="0.15" text-anchor="end" >60</text>
<text transform="translate(428.60,486.24) scale(0.978,1)" x="0" y="2.45" font-family="Liberation Serif" font-size="7.26" fill="#222" stroke="#222" stroke-width="0.15" text-anchor="end" >50</text>
<text transform="translate(428.60,501.78) scale(0.978,1)" x="0" y="2.45" font-family="Liberation Serif" font-size="7.26" fill="#222" stroke="#222" stroke-width="0.15" text-anchor="end" >40</text>
<text transform="translate(430.50,508.70) scale(0.972,1)" x="0" y="2.50" font-family="Liberation Serif" font-size="7.41" fill="#222" stroke="#222" stroke-width="0.15" text-anchor="middle" >0</text>
<text transform="translate(447.87,508.70) scale(0.972,1)" x="0" y="2.50" font-family="Liberation Serif" font-size="7.41" fill="#222" stroke="#222" stroke-width="0.15" text-anchor="middle" >2</text>
<text transform="translate(465.24,508.70) scale(0.972,1)" x="0" y="2.50" font-family="Liberation Serif" font-size="7.41" fill="#222" stroke="#222" stroke-width="0.15" text-anchor="middle" >4</text>
<text transform="translate(482.61,508.70) scale(0.972,1)" x="0" y="2.50" font-family="Liberation Serif" font-size="7.41" fill="#222" stroke="#222" stroke-width="0.15" text-anchor="middle" >6</text>
<text transform="translate(499.98,508.70) scale(0.972,1)" x="0" y="2.50" font-family="Liberation Serif" font-size="7.41" fill="#222" stroke="#222" stroke-width="0.15" text-anchor="middle" >8</text>
<text transform="translate(517.35,508.70) scale(0.972,1)" x="0" y="2.50" font-family="Liberation Serif" font-size="7.41" fill="#222" stroke="#222" stroke-width="0.15" text-anchor="middle" >10</text>
<text transform="translate(534.72,508.70) scale(0.972,1)" x="0" y="2.50" font-family="Liberation Serif" font-size="7.41" fill="#222" stroke="#222" stroke-width="0.15" text-anchor="middle" >12</text>
<text transform="translate(552.09,508.70) scale(0.972,1)" x="0" y="2.50" font-family="Liberation Serif" font-size="7.41" fill="#222" stroke="#222" stroke-width="0.15" text-anchor="middle" >14</text>
<text transform="translate(569.46,508.70) scale(0.972,1)" x="0" y="2.50" font-family="Liberation Serif" font-size="7.41" fill="#222" stroke="#222" stroke-width="0.15" text-anchor="middle" >16</text>
<text transform="translate(586.83,508.70) scale(0.972,1)" x="0" y="2.50" font-family="Liberation Serif" font-size="7.41" fill="#222" stroke="#222" stroke-width="0.15" text-anchor="middle" >18</text>
<text transform="translate(604.20,508.70) scale(0.972,1)" x="0" y="2.50" font-family="Liberation Serif" font-size="7.41" fill="#222" stroke="#222" stroke-width="0.15" text-anchor="middle" >20</text>
<text transform="translate(539.50,519.90) scale(0.999,1)" x="0" y="2.80" font-family="Liberation Serif" font-size="8.48" fill="#111" stroke="#111" stroke-width="0.04" text-anchor="middle" >Storage time(months)</text>
<text transform="translate(411.20,434.25) rotate(-90) scale(0.826,1)" x="0" y="2.90" font-family="Liberation Serif" font-size="8.79" fill="#222" stroke="#222" stroke-width="0.04" text-anchor="middle">Capacity (%)</text>
<text transform="translate(458.40,475.30) scale(1.099,1)" x="0" y="1.90" font-family="Liberation Serif" font-size="5.63" fill="#444" stroke="#444" stroke-width="0.15" text-anchor="middle" font-style="italic">40℃</text>
<text transform="translate(498.50,475.30) scale(0.959,1)" x="0" y="1.90" font-family="Liberation Serif" font-size="5.63" fill="#444" stroke="#444" stroke-width="0.15" text-anchor="middle" font-style="italic">30℃</text>
<text transform="translate(536.40,475.30) scale(0.959,1)" x="0" y="1.90" font-family="Liberation Serif" font-size="5.63" fill="#444" stroke="#444" stroke-width="0.15" text-anchor="middle" font-style="italic">20℃</text>
</svg>
<svg id="t" width="780" height="635" viewBox="0 0 780 635">
<text x="32" y="22.95" font-family="Liberation Sans" font-size="13" fill="#1479cc" stroke="#1479cc" stroke-width="0.2" textLength="225" lengthAdjust="spacingAndGlyphs">The Relationship for Open Circuit Voltage</text>
<text x="32" y="39.95" font-family="Liberation Sans" font-size="13" fill="#1479cc" stroke="#1479cc" stroke-width="0.2" textLength="156" lengthAdjust="spacingAndGlyphs">and Residual Capacity (25℃)</text>
<text x="401.7" y="23.95" font-family="Liberation Sans" font-size="13" fill="#1479cc" stroke="#1479cc" stroke-width="0.2" textLength="108.5" lengthAdjust="spacingAndGlyphs">The Relationship for</text>
<text x="401.7" y="39.95" font-family="Liberation Sans" font-size="13" fill="#1479cc" stroke="#1479cc" stroke-width="0.2" textLength="190" lengthAdjust="spacingAndGlyphs">Charging Voltage and Temperature</text>
<text x="32.1" y="220.95" font-family="Liberation Sans" font-size="13" fill="#1479cc" stroke="#1479cc" stroke-width="0.2" textLength="157.7" lengthAdjust="spacingAndGlyphs">Floating Life on Temperature</text>
<text x="401.6" y="219.95" font-family="Liberation Sans" font-size="13" fill="#1479cc" stroke="#1479cc" stroke-width="0.2" textLength="141.5" lengthAdjust="spacingAndGlyphs">Cycle Life on D.O.D (25℃)</text>
<text x="31.6" y="389.95" font-family="Liberation Sans" font-size="13" fill="#1479cc" stroke="#1479cc" stroke-width="0.2" textLength="186.7" lengthAdjust="spacingAndGlyphs">Effect of Temperature on Capacity</text>
<text x="401.4" y="382" font-family="Liberation Sans" font-size="14.5" fill="#1479cc" stroke="#1479cc" stroke-width="0.2" textLength="178" lengthAdjust="spacingAndGlyphs">Self-discharge Characteristics</text>
</svg>
</body></html>
